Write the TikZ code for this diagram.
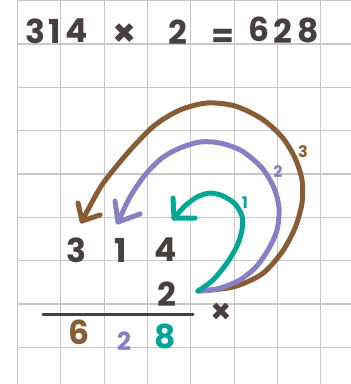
\documentclass[tikz,border=0pt]{standalone}
\usepackage{fontspec}
\setmainfont{Poppins}
\definecolor{ink}{RGB}{72,64,64}
\definecolor{cbrown}{RGB}{136,92,52}
\definecolor{cpurple}{RGB}{136,128,196}
\definecolor{cteal}{RGB}{0,166,150}
\definecolor{gridc}{RGB}{200,200,200}
\begin{document}
\begin{tikzpicture}[x=1pt,y=-1pt,
  gridline/.style={draw=gridc,line width=1.3pt},
  big/.style={inner sep=0pt,text=ink,font=\bfseries\fontsize{33}{33}\selectfont},
  res/.style={inner sep=0pt,font=\bfseries\fontsize{33}{33}\selectfont},
  lbl/.style={inner sep=0pt,font=\bfseries\fontsize{16}{16}\selectfont},
  stroke/.style={line width=5pt,line cap=round,line join=round},
]
\useasboundingbox (0,0) rectangle (351,384);
\fill[white] (0,0) rectangle (351,384);
% grid
\foreach \k in {0,...,7} \draw[gridline] (17.5+43.33*\k,0) -- (17.5+43.33*\k,384);
\foreach \k in {0,...,8} \draw[gridline] (17.5,0.7+43.33*\k) -- (351,0.7+43.33*\k);
% top equation
\node[big] (t3) at (35,31) {3};
\node[big] (t1) at (55,31) {1};
\node[big] (t4) at (77,31) {4};
\node[big,font=\bfseries\fontsize{38}{38}\selectfont] (tx) at (125,35) {×};
\node[big] (t2) at (178,32) {2};
\node[big] (teq) at (223,38) {=};
\node[big] (r6) at (259,29) {6};
\node[big] (r2) at (283,31) {2};
\node[big] (r8) at (308,30) {8};
% column multiplication
\node[big] (m3) at (76,250) {3};
\node[big] (m1) at (121,250) {1};
\node[big] (m4) at (166,250) {4};
\node[big] (m2) at (167,294) {2};
\node[big,font=\bfseries\fontsize{34}{34}\selectfont] (mx) at (221,313) {×};
\coordinate (la) at (43,314);
\coordinate (lb) at (193,314);
\draw[ink,line width=3pt,line cap=round] (la) -- (lb);
\node[res,text=cbrown] (a6) at (79,332) {6};
\node[res,text=cpurple,font=\bfseries\fontsize{25}{25}\selectfont] (a2) at (124,341) {2};
\node[res,text=cteal] (a8) at (165,336) {8};
% arrows
\coordinate (s) at (198,291);
\coordinate (tb) at (82,221);
\coordinate (tp) at (118,222);
\coordinate (tt) at (174,218);
\draw[stroke,cbrown] plot[smooth,tension=0.5] coordinates {(s) (233,287) (262,274) (282,252) (295,228) (302,203) (302,180) (295,158) (282,137) (262,119) (235,106) (207,103) (180,110) (155,125) (133,147) (115,168) (100,188) (tb)};
\draw[stroke,cbrown] (78,203) -- (tb) -- (100,215);
\draw[stroke,cpurple] plot[smooth,tension=0.5] coordinates {(s) (217,289) (238,281) (255,268) (268,250) (277,230) (279,208) (274,188) (262,168) (242,151) (220,143) (200,142) (180,148) (162,158) (145,175) (130,197) (tp)};
\draw[stroke,cpurple] (115,201) -- (tp) -- (140,214);
\draw[stroke,cteal] plot[smooth,tension=0.5] coordinates {(s) (213,280) (227,263) (237,246) (242,230) (242,216) (235,204) (223,196) (210,193) (197,197) (185,206) (tt)};
\draw[stroke,cteal] (173,198) -- (tt) -- (195,218);
% labels
\node[lbl,text=cteal] (l1) at (245,203) {1};
\node[lbl,text=cpurple] (l2) at (278,172) {2};
\node[lbl,text=cbrown] (l3) at (303,152) {3};
\end{tikzpicture}
\end{document}
